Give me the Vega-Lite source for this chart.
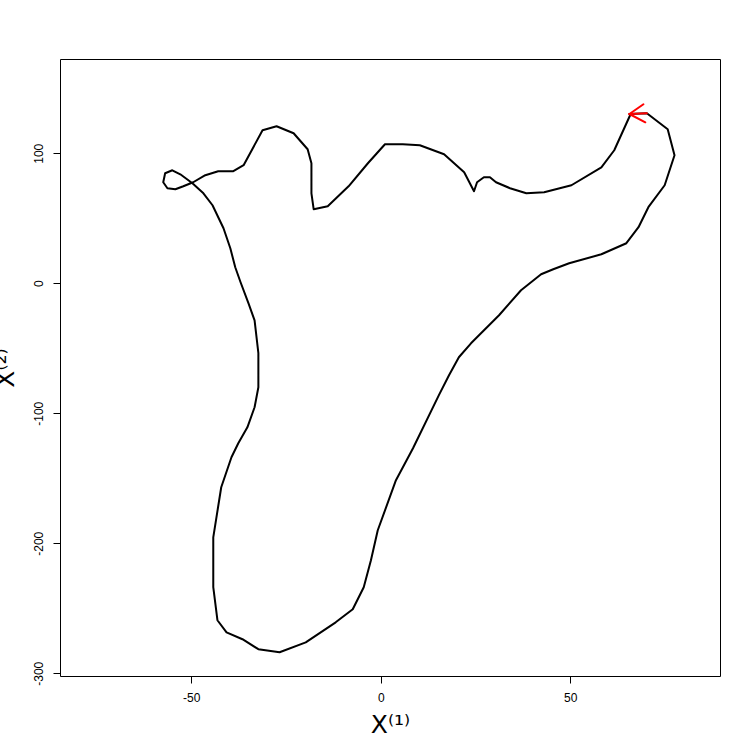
{
  "$schema": "https://vega.github.io/schema/vega-lite/v6.json",
  "width": 660,
  "height": 617,
  "autosize": {"type": "none"},
  "padding": {"left": 60, "top": 59, "right": 30, "bottom": 74},
  "background": "white",
  "config": {
    "view": {"stroke": "black", "strokeWidth": 1},
    "font": "Liberation Sans",
    "axis": {
      "grid": false,
      "domain": false,
      "tickColor": "black",
      "tickSize": 7,
      "tickWidth": 1,
      "labelColor": "black",
      "labelFont": "Liberation Sans",
      "labelFontSize": 12,
      "titleFont": "DejaVu Sans",
      "titleFontWeight": "normal",
      "titleColor": "black",
      "titleFontSize": 25
    }
  },
  "datasets": {
    "path": [
      {"i": 1, "x": 65.9, "y": 130.0},
      {"i": 2, "x": 61.6, "y": 102.3},
      {"i": 3, "x": 58.2, "y": 89.2},
      {"i": 4, "x": 50.3, "y": 75.4},
      {"i": 5, "x": 43.1, "y": 70.0},
      {"i": 6, "x": 38.4, "y": 69.2},
      {"i": 7, "x": 34.1, "y": 73.1},
      {"i": 8, "x": 30.4, "y": 77.7},
      {"i": 9, "x": 28.8, "y": 81.5},
      {"i": 10, "x": 27.2, "y": 81.5},
      {"i": 11, "x": 25.4, "y": 77.7},
      {"i": 12, "x": 24.6, "y": 70.8},
      {"i": 13, "x": 22.0, "y": 85.4},
      {"i": 14, "x": 16.7, "y": 99.2},
      {"i": 15, "x": 10.3, "y": 106.2},
      {"i": 16, "x": 5.8, "y": 106.9},
      {"i": 17, "x": 1.1, "y": 106.9},
      {"i": 18, "x": -3.4, "y": 92.3},
      {"i": 19, "x": -8.5, "y": 74.6},
      {"i": 20, "x": -14.0, "y": 59.2},
      {"i": 21, "x": -17.7, "y": 56.9},
      {"i": 22, "x": -18.3, "y": 69.2},
      {"i": 23, "x": -18.3, "y": 92.3},
      {"i": 24, "x": -19.3, "y": 103.1},
      {"i": 25, "x": -23.0, "y": 115.4},
      {"i": 26, "x": -27.5, "y": 120.8},
      {"i": 27, "x": -31.2, "y": 117.7},
      {"i": 28, "x": -36.2, "y": 90.8},
      {"i": 29, "x": -38.9, "y": 86.2},
      {"i": 30, "x": -42.9, "y": 86.2},
      {"i": 31, "x": -46.3, "y": 83.1},
      {"i": 32, "x": -49.5, "y": 77.7},
      {"i": 33, "x": -52.1, "y": 74.6},
      {"i": 34, "x": -54.2, "y": 72.3},
      {"i": 35, "x": -56.3, "y": 73.1},
      {"i": 36, "x": -57.4, "y": 77.7},
      {"i": 37, "x": -56.9, "y": 84.6},
      {"i": 38, "x": -55.0, "y": 86.9},
      {"i": 39, "x": -52.9, "y": 83.8},
      {"i": 40, "x": -49.7, "y": 76.9},
      {"i": 41, "x": -46.8, "y": 69.2},
      {"i": 42, "x": -44.4, "y": 60.0},
      {"i": 43, "x": -41.5, "y": 42.3},
      {"i": 44, "x": -39.7, "y": 26.9},
      {"i": 45, "x": -38.4, "y": 12.3},
      {"i": 46, "x": -37.0, "y": 0.8},
      {"i": 47, "x": -34.9, "y": -15.4},
      {"i": 48, "x": -33.3, "y": -28.5},
      {"i": 49, "x": -32.3, "y": -53.8},
      {"i": 50, "x": -32.3, "y": -80.0},
      {"i": 51, "x": -33.3, "y": -95.4},
      {"i": 52, "x": -35.2, "y": -110.8},
      {"i": 53, "x": -37.6, "y": -123.1},
      {"i": 54, "x": -39.4, "y": -133.8},
      {"i": 55, "x": -42.1, "y": -156.9},
      {"i": 56, "x": -44.2, "y": -195.4},
      {"i": 57, "x": -44.2, "y": -233.8},
      {"i": 58, "x": -43.1, "y": -259.2},
      {"i": 59, "x": -40.7, "y": -268.5},
      {"i": 60, "x": -36.5, "y": -273.8},
      {"i": 61, "x": -32.3, "y": -281.5},
      {"i": 62, "x": -26.7, "y": -283.8},
      {"i": 63, "x": -19.8, "y": -276.2},
      {"i": 64, "x": -11.9, "y": -260.8},
      {"i": 65, "x": -7.4, "y": -250.8},
      {"i": 66, "x": -4.5, "y": -233.8},
      {"i": 67, "x": -2.6, "y": -213.1},
      {"i": 68, "x": -0.8, "y": -190.0},
      {"i": 69, "x": 4.0, "y": -151.5},
      {"i": 70, "x": 8.5, "y": -126.9},
      {"i": 71, "x": 15.3, "y": -86.2},
      {"i": 72, "x": 18.0, "y": -70.8},
      {"i": 73, "x": 20.6, "y": -56.9},
      {"i": 74, "x": 23.8, "y": -46.2},
      {"i": 75, "x": 31.2, "y": -24.6},
      {"i": 76, "x": 37.0, "y": -5.4},
      {"i": 77, "x": 42.3, "y": 6.9},
      {"i": 78, "x": 45.5, "y": 10.8},
      {"i": 79, "x": 49.7, "y": 15.4},
      {"i": 80, "x": 58.2, "y": 22.3},
      {"i": 81, "x": 64.8, "y": 30.8},
      {"i": 82, "x": 68.0, "y": 43.1},
      {"i": 83, "x": 70.6, "y": 58.5},
      {"i": 84, "x": 74.9, "y": 75.4},
      {"i": 85, "x": 77.5, "y": 98.5},
      {"i": 86, "x": 75.7, "y": 118.5},
      {"i": 87, "x": 70.2, "y": 130.8},
      {"i": 88, "x": 65.6, "y": 130.2}
    ],
    "arrow": [
      {"x": 70.2, "y": 130.8, "x2": 65.6, "y2": 130.2},
      {"x": 65.6, "y": 130.2, "x2": 69.3, "y2": 137.7},
      {"x": 65.6, "y": 130.2, "x2": 69.8, "y2": 123.8}
    ]
  },
  "layer": [
    {
      "data": {"name": "path"},
      "mark": {"type": "line", "color": "black", "strokeWidth": 2, "strokeJoin": "round", "strokeCap": "round"},
      "encoding": {
        "x": {
          "field": "x", "type": "quantitative",
          "scale": {"domain": [-84.64, 89.5], "nice": false, "zero": false},
          "axis": {"values": [-50, 0, 50], "title": "X⁽¹⁾", "labelExpr": "datum.value < 0 ? '-' + abs(datum.value) : '' + datum.value", "labelPadding": 9, "labelBaseline": "top", "titleBaseline": "alphabetic", "titleY": 56, "titleAnchor": "middle"}
        },
        "y": {
          "field": "y", "type": "quantitative",
          "scale": {"domain": [-302.1, 172.5], "nice": false, "zero": false},
          "axis": {"values": [-300, -200, -100, 0, 100], "title": "X⁽²⁾", "labelExpr": "datum.value < 0 ? '-' + abs(datum.value) : '' + datum.value", "labelAngle": 270, "labelAlign": "center", "labelBaseline": "alphabetic", "labelPadding": 11, "titleAngle": 270, "titleBaseline": "alphabetic", "titleX": -47, "titleAnchor": "middle"}
        },
        "order": {"field": "i", "type": "quantitative"}
      }
    },
    {
      "data": {"name": "arrow"},
      "mark": {"type": "rule", "color": "#ff0000", "strokeWidth": 2, "strokeCap": "round"},
      "encoding": {
        "x": {"field": "x", "type": "quantitative"},
        "y": {"field": "y", "type": "quantitative"},
        "x2": {"field": "x2"},
        "y2": {"field": "y2"}
      }
    }
  ]
}
